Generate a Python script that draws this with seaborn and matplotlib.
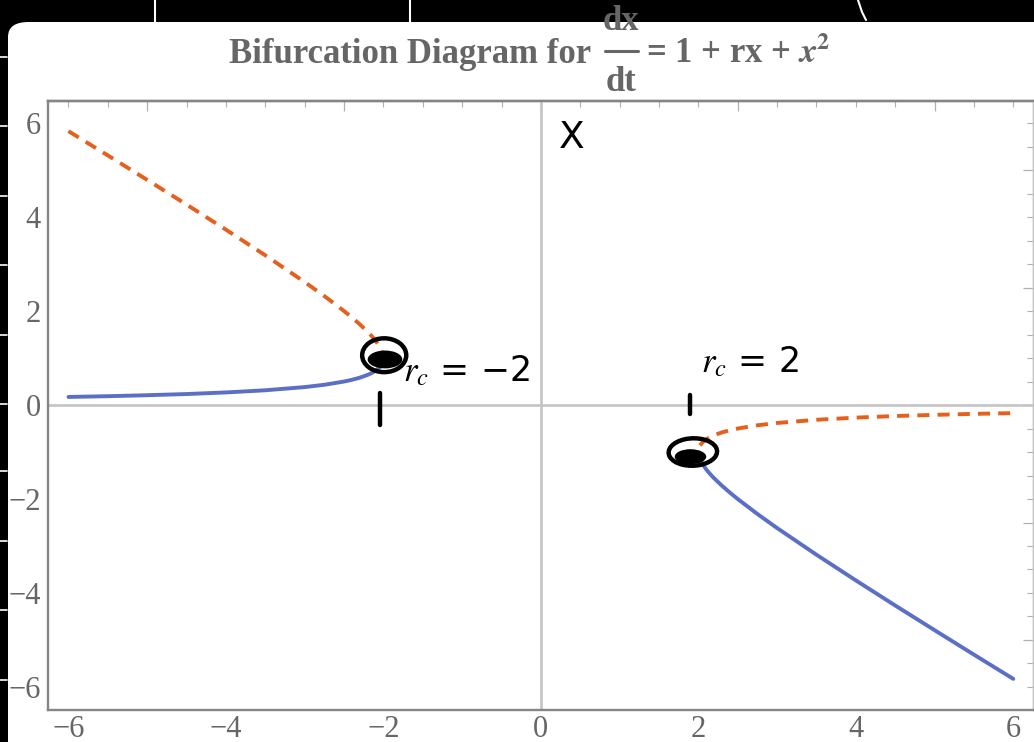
import matplotlib
matplotlib.use("Agg")
import matplotlib.pyplot as plt
import seaborn as sns
from matplotlib.patches import FancyBboxPatch, Ellipse
from matplotlib.lines import Line2D
from matplotlib.ticker import MultipleLocator, NullFormatter

# ---- data ----
r_left = [-6.0, -5.5, -5.0, -4.5, -4.0, -3.5, -3.0, -2.75, -2.5, -2.4, -2.3, -2.2, -2.15, -2.1, -2.05, -2.02]
stable_left = [0.172, 0.188, 0.209, 0.234, 0.268, 0.314, 0.382, 0.431, 0.500, 0.537, 0.582, 0.642, 0.680, 0.730, 0.800, 0.858]
unstable_left = [5.828, 5.312, 4.791, 4.266, 3.732, 3.186, 2.618, 2.319, 2.000, 1.863, 1.718, 1.558, 1.470, 1.370, 1.250, 1.142]

r_right = [2.02, 2.05, 2.1, 2.15, 2.2, 2.3, 2.4, 2.5, 2.75, 3.0, 3.5, 4.0, 4.5, 5.0, 5.5, 6.0]
stable_right = [-1.142, -1.250, -1.370, -1.470, -1.558, -1.718, -1.863, -2.000, -2.319, -2.618, -3.186, -3.732, -4.266, -4.791, -5.312, -5.828]
unstable_right = [-0.858, -0.800, -0.730, -0.680, -0.642, -0.582, -0.537, -0.500, -0.431, -0.382, -0.314, -0.268, -0.234, -0.209, -0.188, -0.172]

major_ticks = [-6, -4, -2, 0, 2, 4, 6]
frame_ticks = [-5, -2.5, 0, 2.5, 5]
title_main = "Bifurcation Diagram for"
title_num = "dx"
title_den = "dt"
title_rhs = r"= 1 + rx + $\mathbfit{x}^{\mathbf{2}}$"

BLUE = "#5b6fc6"
ORANGE = "#e5601c"
GRAY = "#666666"
FRAME = "#858585"
LIGHT = "#c4c4c4"

sns.set_theme(style="white")
plt.rcParams["font.family"] = ["Liberation Serif", "DejaVu Serif"]
plt.rcParams["mathtext.fontset"] = "stix"

fig = plt.figure(figsize=(10.34, 7.42), dpi=100)
fig.patch.set_facecolor("black")

W, H = 1034.0, 742.0
def fx(px):
    return px / W
def fy(py):
    return 1 - py / H

panel = FancyBboxPatch((fx(8), -0.1), 1.2, (742 - 22) / H + 0.1,
                       boxstyle="round,pad=0,rounding_size=0.02",
                       transform=fig.transFigure, facecolor="white",
                       edgecolor="none", zorder=-10)
fig.patches.append(panel)

# notebook marks in the black border
for py in [57, 126, 196, 265, 335, 404, 471, 541, 610, 680]:
    fig.add_artist(Line2D([0, fx(7)], [fy(py), fy(py)], color="white", lw=1.2,
                          transform=fig.transFigure, zorder=-5))
for px in [155, 410]:
    fig.add_artist(Line2D([fx(px), fx(px)], [1, fy(22)], color="white", lw=1.5,
                          transform=fig.transFigure, zorder=-5))
fig.add_artist(Line2D([fx(858), fx(862), fx(866)], [1, fy(12), fy(20)], color="white",
                      lw=1.5, transform=fig.transFigure, zorder=-5))

ax = fig.add_axes([fx(48), 32 / H, (1033 - 48) / W, (710 - 101) / H])
ax.set_zorder(1)
ax.set_facecolor("white")
ax.set_xlim(-6.26, 6.25)
ax.set_ylim(-6.49, 6.47)

ax.axhline(0, color=LIGHT, lw=1.9, zorder=1)
ax.axvline(0, color=LIGHT, lw=1.9, zorder=1)

sns.lineplot(x=r_left, y=stable_left, ax=ax, color=BLUE, lw=2.8, sort=False, zorder=3)
sns.lineplot(x=r_right, y=stable_right, ax=ax, color=BLUE, lw=2.8, sort=False, zorder=3)
sns.lineplot(x=r_left, y=unstable_left, ax=ax, color=ORANGE, lw=2.8, sort=False, zorder=3,
             linestyle="--")
sns.lineplot(x=r_right, y=unstable_right, ax=ax, color=ORANGE, lw=2.8, sort=False, zorder=3,
             linestyle="--")
for ln in ax.lines:
    if ln.get_color() == ORANGE:
        ln.set_dashes([3.1, 2.1])

ax.set_xticks(major_ticks)
ax.set_yticks(major_ticks)
ax.yaxis.set_minor_locator(MultipleLocator(0.5))
ax.tick_params(which="both", direction="in", colors=FRAME, top=False, right=False,
               labelcolor=GRAY, labelsize=22)
ax.tick_params(which="major", length=2.5, width=1.0, pad=5)
ax.tick_params(axis="x", which="major", pad=3.5)
ax.tick_params(which="minor", length=2, width=0.8)
for name in ["left", "bottom", "top"]:
    ax.spines[name].set_color(FRAME)
    ax.spines[name].set_linewidth(1.7)
ax.spines["right"].set_color(LIGHT)
ax.spines["right"].set_linewidth(1.0)

# top / right frame ticks (unlabelled)
secx = ax.secondary_xaxis("top")
secx.set_xticks(frame_ticks)
secx.xaxis.set_minor_locator(MultipleLocator(0.5))
secx.xaxis.set_major_formatter(NullFormatter())
secx.tick_params(which="both", direction="in", colors="#b0b0b0")
secx.tick_params(which="major", length=7, width=0.9)
secx.tick_params(which="minor", length=4, width=0.8)
secx.spines["top"].set_color(FRAME)
secx.spines["top"].set_linewidth(1.7)

secy = ax.secondary_yaxis("right")
secy.set_yticks(frame_ticks)
secy.yaxis.set_minor_locator(MultipleLocator(0.5))
secy.yaxis.set_major_formatter(NullFormatter())
secy.tick_params(which="both", direction="in", colors="#b0b0b0")
secy.tick_params(which="major", length=7, width=0.9)
secy.tick_params(which="minor", length=4, width=0.8)
secy.spines["right"].set_color(LIGHT)
secy.spines["right"].set_linewidth(1.0)

# title: Mathematica-style built-up fraction
tkw = dict(fontsize=25, fontweight="bold", color=GRAY, va="baseline")
fig.text(fx(591), fy(63), title_main, ha="right", **tkw)
fig.text(fx(621), fy(30), title_num, ha="center", **tkw)
fig.text(fx(621), fy(91), title_den, ha="center", **tkw)
fig.add_artist(Line2D([fx(605), fx(638)], [fy(51), fy(51)], color=GRAY, lw=2.2,
                      transform=fig.transFigure))
fig.text(fx(646), fy(63), title_rhs, ha="left", **tkw)

# handwritten annotations
ink = dict(color="black", lw=3.2, solid_capstyle="round")
ax.add_patch(Ellipse((-1.99, 1.06), 0.56, 0.72, facecolor="none", edgecolor="black", lw=3.2, zorder=5))
ax.add_patch(Ellipse((-1.98, 0.97), 0.44, 0.38, facecolor="black", edgecolor="none", zorder=5))
ax.add_patch(Ellipse((1.93, -1.0), 0.62, 0.58, angle=20, facecolor="none", edgecolor="black", lw=3.2, zorder=5))
ax.add_patch(Ellipse((1.9, -1.1), 0.4, 0.32, facecolor="black", edgecolor="none", zorder=5))
ax.plot([-2.04, -2.04], [0.26, -0.42], **ink, zorder=5)
ax.plot([1.90, 1.90], [0.22, -0.20], **ink, zorder=5)
ax.text(-0.95, 0.72, r"$r_c$ = −2", fontsize=25, color="black", ha="center", va="center",
        family=["DejaVu Sans"], zorder=5)
ax.text(2.65, 0.92, r"$r_c$ = 2", fontsize=25, color="black", ha="center", va="center",
        family=["DejaVu Sans"], zorder=5)
ax.text(0.39, 5.68, "X", fontsize=27, color="black", ha="center", va="center",
        family=["DejaVu Sans"], zorder=5)

fig.savefig("out.png", dpi=100, facecolor=fig.get_facecolor())
